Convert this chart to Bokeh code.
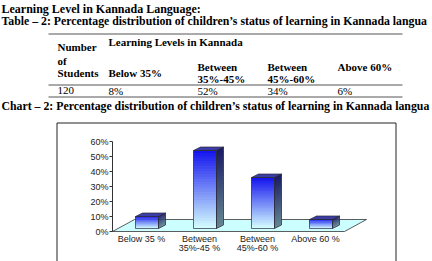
import numpy as np
from bokeh.plotting import figure
from bokeh.models import Range1d, LinearAxis, FixedTicker, PrintfTickFormatter
from bokeh.core.properties import value
from bokeh.embed import file_html
from bokeh.resources import INLINE

# ---------------- data ----------------
section_title = "Learning Level in Kannada Language:"
table_title = "Table \u2013 2: Percentage distribution of children\u2019s status of learning in Kannada langua"
chart_title = "Chart \u2013 2: Percentage distribution of children\u2019s status of learning in Kannada langua"
group_header = "Learning Levels in Kannada"
students_header = ["Number", "of", "Students"]
table_levels = [["Below 35%"], ["Between", "35%-45%"], ["Between", "45%-60%"], ["Above 60%"]]
chart_levels = ["Below 35 %", "Between\n35%-45 %", "Between\n45%-60 %", "Above 60 %"]
students = 120
percent = [8, 52, 34, 6]
y_ticks = [0, 10, 20, 30, 40, 50, 60]

# ---------------- layout / style constants ----------------
W, H = 432, 261
SERIF = "Liberation Serif"
SANS = "Liberation Sans"

AXIS_X = 112      # pixel x of the value axis / floor front-left
CAT_PX = 58       # pixels per category
BASE_Y = 231      # pixel y of 0 %
PCT_PX = 1.5      # pixels per percent

FDX, FDY = 22 / CAT_PX, 12 / PCT_PX        # floor depth
OX, OY = 0.25 * FDX, 0.25 * FDY            # bar placement inside floor depth
BDX, BDY = 7 / CAT_PX, 3.5 / PCT_PX        # bar depth
BW = 23 / CAT_PX                           # bar width
NSLICE = 30

p = figure(width=W, height=H, x_range=Range1d(0, W), y_range=Range1d(H, 0),
           x_axis_location=None, y_axis_location=None, toolbar_location=None,
           output_backend="svg", min_border=0, outline_line_color=None,
           background_fill_color="white", border_fill_color="white")
p.grid.grid_line_color = None

# ---------------- document text ----------------
p.text(x=[1], y=[8], text=[section_title], text_font=value(SERIF), text_font_style="bold",
       text_font_size="12px", text_baseline="alphabetic", text_color="black")
p.text(x=[1, 1], y=[20.5, 105], text=[table_title, chart_title], text_font=value(SERIF),
       text_font_style="bold", text_font_size="11.8px", text_baseline="middle", text_color="black")

# table
col_x = [57, 108, 197, 267, 337]
hx, hy, ht = [], [], []
for t, yy in zip(students_header, [46, 60, 72]):
    hx.append(col_x[0]); hy.append(yy); ht.append(t)
hx.append(col_x[1]); hy.append(41); ht.append(group_header)
cell_y = [[72], [66, 78], [66, 78], [66]]
for j, lines in enumerate(table_levels):
    for t, yy in zip(lines, cell_y[j]):
        hx.append(col_x[j + 1]); hy.append(yy); ht.append(t)
p.text(x=hx, y=hy, text=ht, text_font=value(SERIF), text_font_style="bold",
       text_font_size="11px", text_baseline="middle", text_color="black")

row_text = [str(students)] + [f"{v}%" for v in percent]
p.text(x=col_x, y=[90] * len(col_x), text=row_text, text_font=value(SERIF),
       text_font_size="11px", text_baseline="middle", text_color="black")

p.segment(x0=[48, 48, 48], x1=[402, 402, 402], y0=[33.5, 84.5, 96.5], y1=[33.5, 84.5, 96.5],
          line_color="#555555", line_width=1)

# chart box
p.multi_line(xs=[[56.5, 56.5, 395.5, 395.5]], ys=[[H, 122.5, 122.5, H]],
             line_color="#222222", line_width=1)

# ---------------- chart (data scales) ----------------
p.extra_x_ranges = {"cat": Range1d(-AXIS_X / CAT_PX, (W - AXIS_X) / CAT_PX)}
p.extra_y_ranges = {"pct": Range1d(-(H - BASE_Y) / PCT_PX, BASE_Y / PCT_PX)}
n = len(percent)
kw = dict(x_range_name="cat", y_range_name="pct")

# floor
p.patch(x=[0, n, n + FDX, FDX], y=[0, 0, FDY, FDY], fill_color="#ccffff",
        line_color="#333333", line_width=0.8, **kw)


def mix(c0, c1, f):
    c = [round(a + (b - a) * f) for a, b in zip(c0, c1)]
    return "#%02x%02x%02x" % tuple(c)


FRONT_BOT, FRONT_TOP = (214, 255, 255), (18, 18, 238)
SIDE_BOT, SIDE_TOP = (100, 136, 146), (26, 26, 100)
TOP_FACE = "#3c3ca6"

fl, fr, fb, ft, fc = [], [], [], [], []
sxs, sys_, sc = [], [], []
txs, tys = [], []
oxs, oys = [], []
for i, v in enumerate(percent):
    xl = i + 0.5 - BW / 2 + OX
    xr = xl + BW
    yb = OY
    yt = OY + v
    for k in range(NSLICE):
        b = yb + v * k / NSLICE
        t = yb + v * (k + 1) / NSLICE
        tt = t + (v / NSLICE * 0.6 if k < NSLICE - 1 else 0)
        f = (k + 0.5) / NSLICE
        fl.append(xl); fr.append(xr); fb.append(b); ft.append(tt)
        fc.append(mix(FRONT_BOT, FRONT_TOP, f))
        sxs.append([xr, xr + BDX, xr + BDX, xr])
        sys_.append([b, b + BDY, tt + BDY, tt])
        sc.append(mix(SIDE_BOT, SIDE_TOP, f))
    txs.append([xl, xr, xr + BDX, xl + BDX])
    tys.append([yt, yt, yt + BDY, yt + BDY])
    oxs += [[xl, xr, xr, xl], [xr, xr + BDX, xr + BDX, xr], [xl, xr, xr + BDX, xl + BDX]]
    oys += [[yb, yb, yt, yt], [yb, yb + BDY, yt + BDY, yt], [yt, yt, yt + BDY, yt + BDY]]

p.quad(left=fl, right=fr, bottom=fb, top=ft, fill_color=fc, line_color=None, **kw)
p.patches(xs=sxs, ys=sys_, fill_color=sc, line_color=None, **kw)
p.patches(xs=txs, ys=tys, fill_color=TOP_FACE, line_color=None, **kw)
p.patches(xs=oxs, ys=oys, fill_color=None, line_color="#2a2a3a", line_width=0.7, **kw)

# value axis
yaxis = LinearAxis(x_range_name="cat", y_range_name="pct", fixed_location=0,
                   ticker=FixedTicker(ticks=y_ticks), formatter=PrintfTickFormatter(format="%d%%"),
                   bounds=(y_ticks[0], y_ticks[-1]))
yaxis.axis_line_color = "#333333"
yaxis.major_tick_line_color = "#333333"
yaxis.major_tick_in = 0
yaxis.major_tick_out = 3
yaxis.minor_tick_line_color = None
yaxis.major_label_standoff = 1
yaxis.major_label_text_font = SANS
yaxis.major_label_text_font_size = "9px"
yaxis.major_label_text_color = "#222222"
p.add_layout(yaxis, "left")

# category axis
cat_ticks = [i + 0.5 for i in range(n)]
xaxis = LinearAxis(x_range_name="cat", y_range_name="pct", fixed_location=0,
                   ticker=FixedTicker(ticks=cat_ticks),
                   major_label_overrides={t: lab for t, lab in zip(cat_ticks, chart_levels)})
xaxis.axis_line_color = None
xaxis.major_tick_line_color = None
xaxis.minor_tick_line_color = None
xaxis.major_label_standoff = -4
xaxis.major_label_text_font = SANS
xaxis.major_label_text_font_size = "9px"
xaxis.major_label_text_line_height = 0.95
xaxis.major_label_text_color = "#222222"
p.add_layout(xaxis, "below")

open("out.html", "w").write(file_html(p, INLINE))
